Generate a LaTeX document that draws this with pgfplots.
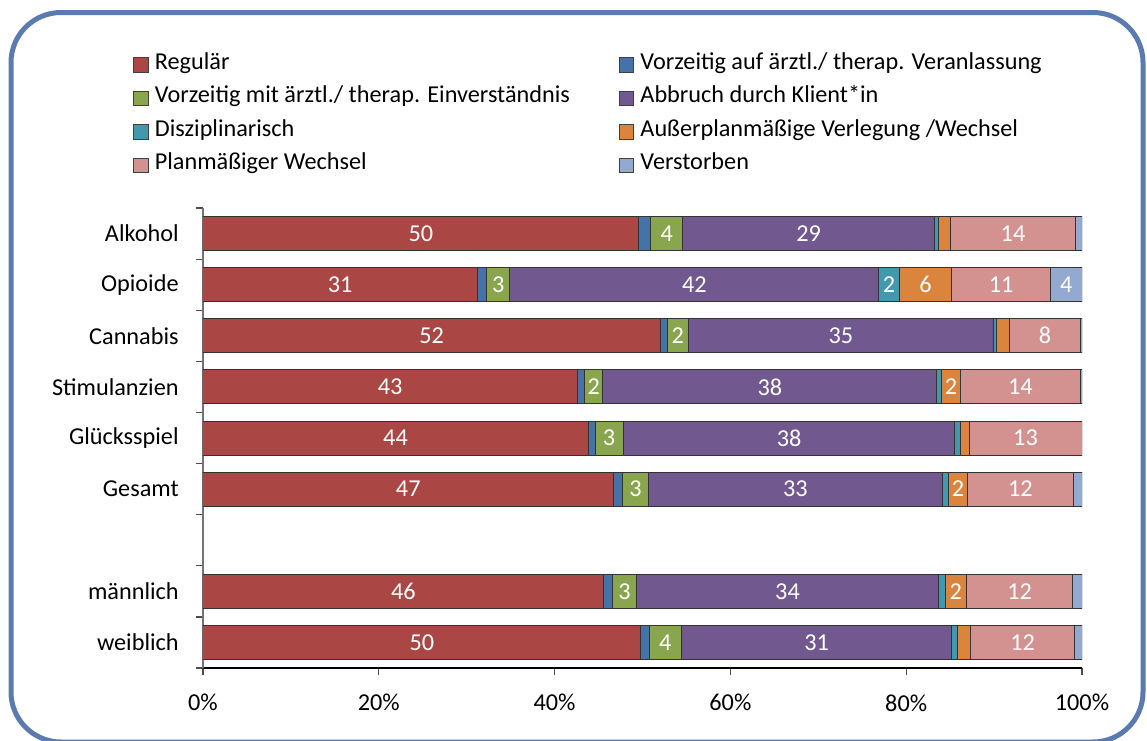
\documentclass[border=0pt]{standalone}
\usepackage{fontspec}
\setmainfont{Carlito}
\usepackage{pgfplots}
\pgfplotsset{compat=1.18}
\usepackage{pgfplotstable}

\definecolor{cReg}{HTML}{AA4643}
\definecolor{cVauf}{HTML}{4572A7}
\definecolor{cVmit}{HTML}{89A54E}
\definecolor{cAbb}{HTML}{71588F}
\definecolor{cDis}{HTML}{4198AF}
\definecolor{cAus}{HTML}{DB843D}
\definecolor{cPlan}{HTML}{D39290}
\definecolor{cVerst}{HTML}{93A9CF}
\definecolor{cFrame}{HTML}{5B7BB0}

\pgfplotstableread{
y reg vauf vmit abb dis aus plan verst
0 49.6 1.3 3.7 28.6 0.5 1.3 14.3 0.7
1 31.2 1.1 2.6 42.0 2.3 6.0 11.2 3.6
2 52.0 0.8 2.4 34.75 0.3 1.5 8.1 0.15
3 42.6 0.8 2.1 38.0 0.5 2.2 13.6 0.2
4 43.8 0.8 3.2 37.75 0.6 1.0 12.85 0.0
5 46.7 1.0 3.0 33.4 0.7 2.2 12.0 1.0
7 45.6 1.0 2.7 34.4 0.75 2.4 12.1 1.05
8 49.8 1.0 3.6 30.8 0.6 1.5 11.9 0.8
}\data

\begin{document}
\fontsize{13.8}{16.5}\selectfont
\begin{tikzpicture}
\draw[cFrame, line width=1mm, rounded corners=10mm] (2.2mm,-2.5mm) rectangle (228.6mm,-148.4mm);
\begin{axis}[
  at={(40.6mm,-133.6mm)}, anchor=south west,
  scale only axis, width=175.8mm, height=92mm,
  xbar stacked, bar width=6.8mm,
  xmin=0, xmax=100, ymin=-0.5, ymax=8.5, y dir=reverse,
  axis x line*=bottom, axis y line*=left,
  x axis line style={black, line width=0.25mm},
  y axis line style={black!55, line width=0.25mm},
  tick style={black!70, line width=0.25mm},
  tick align=outside, major tick length=1.4mm,
  xtick={0,20,...,100}, xticklabel={\pgfmathprintnumber{\tick}\%},
  x tick label style={yshift=-2.2mm},
  /pgf/number format/assume math mode=true,
  ytick={-0.5,0.5,...,8.5}, yticklabels={},
  extra y ticks={0,1,2,3,4,5,7,8},
  extra y tick labels={Alkohol,Opioide,Cannabis,Stimulanzien,Glücksspiel,Gesamt,männlich,weiblich},
  extra y tick style={major tick length=0pt, tick label style={inner sep=0pt, xshift=-4.8mm}},
  nodes near coords={\pgfmathfloatparsenumber{1.75}\let\thr\pgfmathresult\pgfmathfloatlessthan{\pgfplotspointmeta}{\thr}\ifpgfmathfloatcomparison\else\pgfmathprintnumber[fixed,precision=0]{\pgfplotspointmeta}\fi},
  every node near coord/.append style={text=white, font=\fontsize{13.8}{16.5}\selectfont},
  legend columns=2,
  legend cell align=left,
  legend style={at={(axis description cs:-0.0796,1.329)}, anchor=north west,
    draw=none, fill=none, inner sep=0pt, row sep=3.5mm,
    nodes={inner sep=0pt, text height=2.4mm, text depth=0.8mm},
    /tikz/every odd column/.append style={column sep=1.2mm},
    /tikz/every even column/.append style={column sep=9.8mm}},
  legend image code/.code={\draw[#1, draw=black!75, line width=0.2mm] (0mm,-1.45mm) rectangle (2.9mm,1.45mm);},
]
\addplot[fill=cReg, draw=black!80, line width=0.2mm] table[x=reg, y=y]{\data};
\addlegendentry{Regulär}
\addplot[fill=cVauf, draw=black!80, line width=0.2mm] table[x=vauf, y=y]{\data};
\addlegendentry{Vorzeitig auf ärztl./ therap. Veranlassung}
\addplot[fill=cVmit, draw=black!80, line width=0.2mm] table[x=vmit, y=y]{\data};
\addlegendentry{Vorzeitig mit ärztl./ therap. Einverständnis}
\addplot[fill=cAbb, draw=black!80, line width=0.2mm] table[x=abb, y=y]{\data};
\addlegendentry{Abbruch durch Klient*in}
\addplot[fill=cDis, draw=black!80, line width=0.2mm] table[x=dis, y=y]{\data};
\addlegendentry{Disziplinarisch}
\addplot[fill=cAus, draw=black!80, line width=0.2mm] table[x=aus, y=y]{\data};
\addlegendentry{Außerplanmäßige Verlegung /Wechsel}
\addplot[fill=cPlan, draw=black!80, line width=0.2mm] table[x=plan, y=y]{\data};
\addlegendentry{Planmäßiger Wechsel}
\addplot[fill=cVerst, draw=black!80, line width=0.2mm] table[x=verst, y=y]{\data};
\addlegendentry{Verstorben}
\end{axis}
\pgfresetboundingbox
\useasboundingbox (0,0) rectangle (229.4mm,-148mm);
\end{tikzpicture}
\end{document}
